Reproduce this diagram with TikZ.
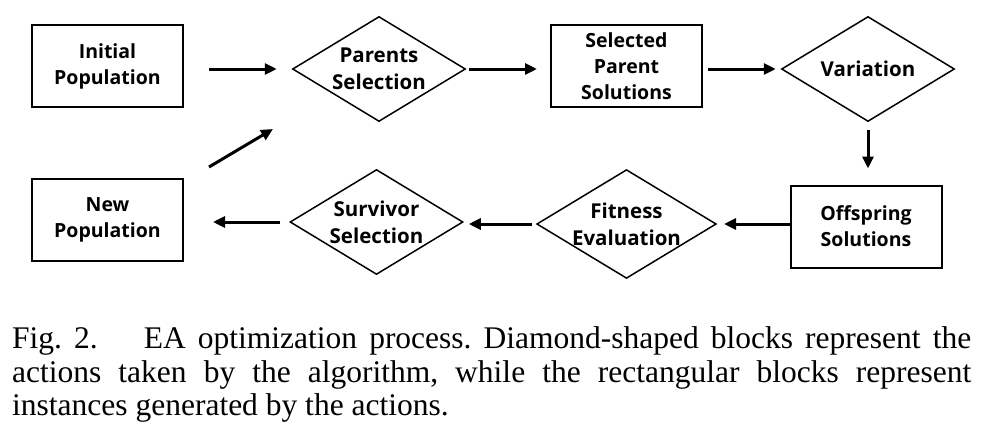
\documentclass[tikz,border=0pt]{standalone}
\usepackage{fontspec}
\usetikzlibrary{shapes.geometric,arrows.meta}
\newfontfamily\boxfont{Open Sans}
\newfontfamily\capfont{Liberation Serif}
\frenchspacing
\tikzset{
  rectbox/.style={draw, line width=2pt, rectangle, minimum width=151pt, minimum height=82pt, inner sep=0pt, align=center, font=\boxfont\bfseries\fontsize{19.5}{26}\selectfont},
  diabox/.style={draw, line width=1.5pt, diamond, minimum width=173pt, minimum height=105pt, inner sep=0pt, aspect=1.65, align=center, font=\boxfont\bfseries\fontsize{20.5}{27}\selectfont},
  arr/.style={line width=3pt, -{Triangle[length=12pt,width=11pt]}}
}
\begin{document}
\begin{tikzpicture}[x=1pt,y=-1pt]
\useasboundingbox (0,0) rectangle (991,426);
\node[rectbox] (init) at (107.5,66) {Initial\\Population};
\node[diabox] (parsel) at (379,69) {Parents\\Selection};
\node[rectbox] (selpar) at (626.5,66) {Selected\\Parent\\Solutions};
\node[diabox] (var) at (868,69) {Variation};
\node[rectbox] (off) at (866,226.5) {Offspring\\Solutions};
\node[diabox] (fit) at (626.5,224) {Fitness\\Evaluation};
\node[diabox] (surv) at (376.5,222) {Survivor\\Selection};
\node[rectbox] (newpop) at (107.5,220) {New\\Population};
\coordinate (d1) at (209,167);
\coordinate (d2) at (273,129);
\draw[arr, shorten <=25pt, shorten >=15pt] (init.east |- parsel.west) -- (parsel.west);
\draw[arr, shorten <=3pt, shorten >=13pt] (parsel.east) -- (parsel.east -| selpar.west);
\draw[arr, shorten <=5pt, shorten >=5pt] (selpar.east |- var.west) -- (var.west);
\draw[arr, shorten <=8pt, shorten >=16pt] (var.south) -- (var.south |- off.north);
\draw[arr, shorten <=0pt, shorten >=7pt] (off.west |- fit.east) -- (fit.east);
\draw[arr, shorten <=4pt, shorten >=5pt] (fit.west) -- (fit.west -| surv.east);
\draw[arr, shorten <=9pt, shorten >=29pt] (surv.west) -- (surv.west -| newpop.east);
\draw[arr] (d1) -- (d2);
\node[anchor=base west, inner sep=0pt, text width=959pt, align=justify, font=\capfont\fontsize{31.5}{33.5}\selectfont] (cap) at (12,348.5)
{\frenchspacing Fig. 2.\hspace{34pt} EA optimization process. Diamond-shaped blocks represent the\linebreak actions taken by the algorithm, while the rectangular blocks represent\linebreak instances generated by the actions.};
\end{tikzpicture}
\end{document}
